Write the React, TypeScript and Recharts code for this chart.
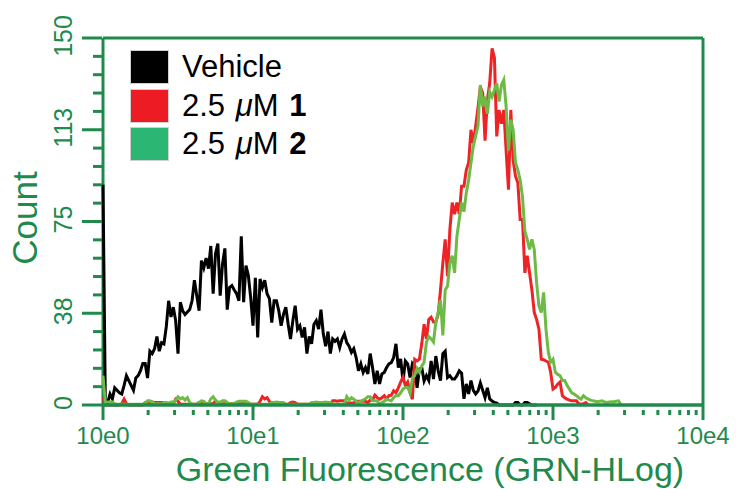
import { LineChart, Line, XAxis, YAxis, ReferenceLine } from 'recharts';

// flow histogram, 256 log channels over 4 decades (64 per decade)
const AXIS_GREEN = '#1f8a4c';
const FONT = '"Liberation Sans", Arial, sans-serif';

const decadeLabels = ['10e0', '10e1', '10e2', '10e3', '10e4'];
const yLabels = ['0', '38', '75', '113', '150'];
const yMajor = [0, 37.5, 75, 112.5, 150];
const yMinor = [7.5, 15, 22.5, 30, 45, 52.5, 60, 67.5, 82.5, 90, 97.5, 105, 120, 127.5, 135, 142.5];

// counts per channel, index = channel
const vehicle = [
  90, 1, 1, 4.5, 2.5, 7, 6, 5, 4.5, 8, 12, 10, 8, 6, 11, 12,
  14, 17, 17, 11, 22, 21, 23, 28, 22, 25.5, 25, 32, 42.6, 36, 40, 34.5,
  21, 42, 38.5, 37, 38, 39, 42.6, 51, 44.7, 38.5, 59, 56, 60, 55.7, 65, 45.5,
  61.8, 66, 44.7, 57.7, 64, 39, 48, 48.8, 47, 45.5, 42.6, 69, 42, 57, 53, 44,
  32.4, 52, 27.6, 51.5, 48, 51, 45.5, 43.5, 33.7, 42.6, 42.6, 38.5, 32.4, 37, 40, 33,
  27, 34.5, 40.6, 31, 32.4, 27.6, 31.7, 21, 28, 25, 33, 34.5, 31, 39, 29, 24,
  30, 21, 27, 26, 27, 23.5, 27, 29, 25.5, 24, 21.5, 23, 19.4, 14, 16.8, 13.3,
  15.3, 12.7, 21, 15.3, 8.6, 14, 8.6, 12.7, 13.3, 15.3, 16.8, 17.3, 19.4, 25, 15.3, 18.8,
  9.8, 18, 16.8, 11.2, 16.8, 15.3, 7, 14.7, 15.3, 9.8, 12, 10, 18, 10.6, 20, 14,
  10, 21, 22, 11.2, 12, 10.6, 10.6, 12, 14, 13, 2.5, 8.6, 4.5, 10, 6, 4.5,
  5.7, 9, 6, 3, 7, 2.5, 1.6, 1, 0.8, 0, 0, 0, 0, 0, 0, 0,
  1, 1, 0, 0, 1, 1, 0.5, 0, 0, 0,
];

const compound1 = [
  3, 0, 0, 0, 0, 0, 0, 0, 0.5, 2.4, 0.5, 0, 0, 0, 0, 0,
  0, 0, 1, 1, 1, 1.2, 1, 1, 1, 1, 1, 0.5, 0.5, 0.5, 0.5, 2.4,
  1.5, 0.3, 0.3, 0.3, 0.3, 0.3, 0.3, 0.3, 0.3, 1, 1, 1, 0.5, 0.5, 0.5, 0.5,
  1.7, 1, 0.5, 0.5, 0.5, 0.5, 0.5, 0.5, 0.5, 0.8, 0.8, 0.8, 0.8, 0.3, 0.3, 0.3,
  0.3, 0.3, 0.3, 1.5, 3.4, 2.5, 3, 1.5, 0.3, 0.3, 0.3, 0.3, 0.3, 0.3, 0.3, 0.3,
  1, 1.2, 1, 0.3, 0.3, 0.3, 0.3, 0.3, 0.3, 0.3, 0.3, 0.3, 0.3, 0.3, 0.3, 0.3,
  0.3, 0.3, 1.7, 1.7, 1.5, 1.7, 1.7, 1.7, 0.8, 0.8, 0.8, 0.8, 1.5, 1.5, 1.5, 1.5,
  1.5, 1, 2, 2, 4, 3, 2.4, 3, 3.8, 2.4, 3.8, 4, 5.8, 5, 7, 9.4,
  11.4, 7.9, 9.4, 5, 2.4, 18.7, 18, 18.7, 25, 33, 27, 35, 35.9, 34, 33.8, 37,
  47, 58, 67.7, 52.7, 71.7, 82.7, 78, 82.7, 78, 89.4, 89.4, 96, 99, 112.5, 107, 114,
  121.5, 130, 127.5, 108, 124.7, 131.6, 145.8, 142, 109.8, 120.6, 115, 120.6, 104, 88, 120.6, 100,
  93.5, 90.8, 75.8, 75.8, 54, 61, 54, 47, 37.8, 35, 31, 18.7, 18.5, 18, 17.5, 13.4,
  6.5, 7.2, 8.5, 9.4, 3.8, 3, 2.4, 2, 1.7, 1.7, 1.7, 0.5, 0.3, 0.5, 1, 0,
];

const compound2 = [
  12, 1, 1.2, 1.2, 1.2, 0.5, 0.3, 0.3, 0.5, 0.3, 0.3, 0.3, 0.3, 0.3, 0.3, 0.3,
  0.3, 0.3, 0.8, 1.7, 1.7, 1.2, 0.5, 0.5, 0.5, 0.5, 1, 1, 0.8, 1.2, 1.2, 2,
  3.4, 2.5, 3, 2, 3, 1, 0.3, 0.3, 0.3, 1, 1.7, 1.5, 0.5, 0.5, 2.5, 3.4,
  2, 1, 1.2, 1.7, 1.7, 1, 0.5, 0.5, 0.5, 1.2, 1.5, 1.5, 1.5, 1.5, 1, 0.3,
  0.3, 0.3, 0.3, 0.3, 0.3, 0.3, 0.3, 0.3, 1, 1, 1.2, 1, 1, 1, 0.3, 0.3,
  0.3, 0.3, 0.3, 0.3, 0.3, 0.3, 0.3, 0.3, 0.3, 1, 1, 1.2, 1, 1, 1, 1.2,
  1, 1, 0.3, 0.3, 0.3, 0.3, 0.3, 0.3, 3.4, 2, 3, 2.4, 1.5, 1, 1.5, 2,
  2.5, 3.4, 3.4, 1.7, 1.7, 1.7, 0.3, 1, 1.5, 2.4, 2, 1.7, 3, 3.8, 3.8, 5,
  6.5, 7.2, 7.2, 5, 10.8, 12, 15, 13.4, 16, 17.5, 25.7, 28, 27, 25.7, 33.8, 38,
  43, 28.4, 47, 48.6, 58, 61, 54, 69, 75.8, 82.7, 79, 86.7, 92, 99, 105.7, 110,
  114, 130.8, 122, 126, 119, 128, 126, 128.8, 131.5, 124, 130.8, 132.9, 122, 104, 116.6, 112.5,
  99, 96, 92, 85, 71, 67.7, 63.6, 67.7, 63.6, 50, 40.5, 37.8, 46, 31, 21.6, 17.5,
  18.7, 13.4, 12.5, 12, 10, 10, 8, 6.5, 5, 4.5, 3.8, 3, 2.4, 3.8, 3, 2.4,
  2, 1.7, 1.5, 1.3, 1.5, 1.7, 1.2, 1, 1.2, 1.3, 1.3, 1.5, 1.7, 0,
];

const channelCount = Math.max(vehicle.length, compound1.length, compound2.length);
const data = Array.from({ length: channelCount }, (_, ch) => ({
  ch,
  vehicle: vehicle[ch],
  c1: compound1[ch],
  c2: compound2[ch],
}));

// decade ticks plus the 2..9 minor ticks in each decade
const xMajor = decadeLabels.map((_, i) => i * 64);
const xMinor: number[] = [];
for (let d = 0; d < 4; d++) {
  for (let k = 2; k <= 9; k++) xMinor.push(64 * (d + Math.log10(k)));
}

const PLOT_LEFT = 103;
const PLOT_BOTTOM = 405;

function XTick(props: any) {
  const { x, payload } = props;
  const idx = xMajor.indexOf(payload.value);
  const major = idx >= 0;
  return (
    <g>
      <line x1={x} x2={x} y1={major ? PLOT_BOTTOM : 410} y2={major ? 420 : 415} stroke={AXIS_GREEN} strokeWidth={3} />
      {major && (
        <text x={x} y={435} textAnchor="middle" dominantBaseline="central" fontSize={24} fontFamily={FONT} fill={AXIS_GREEN}>
          {decadeLabels[idx]}
        </text>
      )}
    </g>
  );
}

function YTick(props: any) {
  const { y, payload } = props;
  const idx = yMajor.indexOf(payload.value);
  const major = idx >= 0;
  return (
    <g>
      <line x1={major ? 82 : 93} x2={PLOT_LEFT - 1} y1={y} y2={y} stroke={AXIS_GREEN} strokeWidth={3} />
      {major && (
        <text
          transform={`translate(63,${y - 2}) rotate(-90)`}
          textAnchor="middle"
          dominantBaseline="central"
          fontSize={25}
          fontFamily={FONT}
          fill={AXIS_GREEN}
        >
          {yLabels[idx]}
        </text>
      )}
    </g>
  );
}

const legendItems = [
  { color: '#000000', label: <>Vehicle</> },
  { color: '#ed1c24', label: <>2.5 <i>μ</i>M <b>1</b></> },
  { color: '#2bb673', label: <>2.5 <i>μ</i>M <b>2</b></> },
];

function LegendBox() {
  return (
    <div style={{ position: 'absolute', left: 130, top: 48, fontFamily: FONT, fontSize: 31, color: '#000' }}>
      {legendItems.map((it, i) => (
        <div key={i} style={{ display: 'flex', alignItems: 'center', height: 38.5 }}>
          <div style={{ width: 39, height: 34, background: it.color, boxSizing: 'border-box', border: '1px solid #d0d0d0' }} />
          <span style={{ marginLeft: 13, lineHeight: '34px', wordSpacing: 2 }}>{it.label}</span>
        </div>
      ))}
    </div>
  );
}

export default function App() {
  return (
    <div style={{ position: 'absolute', left: 0, top: 0, width: 736, height: 489, background: '#fff' }}>
      <LineChart width={736} height={489} data={data} margin={{ top: 38, right: 33, bottom: 0, left: 0 }}>
        <XAxis
          dataKey="ch"
          type="number"
          domain={[0, 256]}
          ticks={[...xMajor, ...xMinor]}
          interval={0}
          height={84}
          tick={<XTick />}
          tickLine={false}
          axisLine={false}
          label={{
            content: () => (
              <text x={430} y={469} textAnchor="middle" dominantBaseline="central" fontSize={34} fontFamily={FONT} fill={AXIS_GREEN}>
                Green Fluorescence (GRN-HLog)
              </text>
            ),
          }}
        />
        <YAxis
          type="number"
          domain={[0, 150]}
          ticks={[...yMajor, ...yMinor]}
          interval={0}
          width={PLOT_LEFT}
          tick={<YTick />}
          tickLine={false}
          axisLine={false}
          label={{
            content: () => (
              <text transform="translate(24,218) rotate(-90)" textAnchor="middle" dominantBaseline="central" fontSize={35} fontFamily={FONT} fill={AXIS_GREEN}>
                Count
              </text>
            ),
          }}
        />
        {/* frame: left/top/right under the traces, bottom over them so zero runs hide */}
        <ReferenceLine x={0} stroke={AXIS_GREEN} strokeWidth={3} zIndex={100} />
        <ReferenceLine y={150} stroke={AXIS_GREEN} strokeWidth={3} zIndex={100} />
        <ReferenceLine x={256} stroke={AXIS_GREEN} strokeWidth={3} zIndex={100} />
        <Line type="linear" dataKey="vehicle" stroke="#000000" strokeWidth={3} dot={false} isAnimationActive={false} zIndex={400} />
        <Line type="linear" dataKey="c1" stroke="#ee2326" strokeWidth={3} dot={false} isAnimationActive={false} zIndex={400} />
        <Line type="linear" dataKey="c2" stroke="#6dbb46" strokeWidth={3} dot={false} isAnimationActive={false} zIndex={400} />
        <ReferenceLine y={0} stroke={AXIS_GREEN} strokeWidth={3.5} zIndex={700} />
      </LineChart>
      <LegendBox />
    </div>
  );
}
